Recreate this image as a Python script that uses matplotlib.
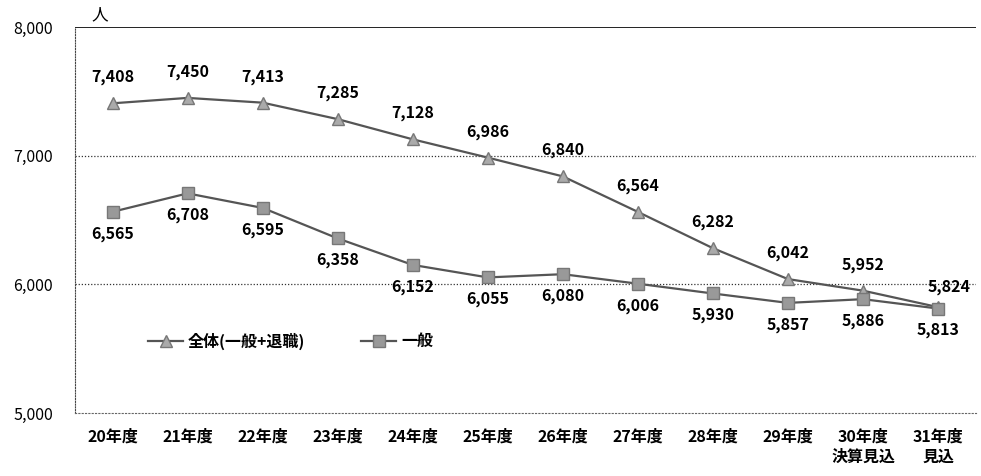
import matplotlib
matplotlib.use("Agg")
import matplotlib.pyplot as plt

plt.rcParams['font.family'] = ['Noto Sans CJK JP', 'DejaVu Sans']

categories = ["20年度", "21年度", "22年度", "23年度", "24年度", "25年度",
              "26年度", "27年度", "28年度", "29年度", "30年度\n決算見込", "31年度\n見込"]
total = [7408, 7450, 7413, 7285, 7128, 6986, 6840, 6564, 6282, 6042, 5952, 5824]
general = [6565, 6708, 6595, 6358, 6152, 6055, 6080, 6006, 5930, 5857, 5886, 5813]
yticks = [5000, 6000, 7000, 8000]

fig = plt.figure(figsize=(9.81, 4.76), dpi=100)
ax = fig.add_axes([0.0765, 0.132, 0.918, 0.811])

x = list(range(len(categories)))
ax.plot(x, total, color="#555555", lw=1.6, marker="^", ms=9,
        mfc="#aaaaaa", mec="#777777", label="全体(一般+退職)", zorder=3)
ax.plot(x, general, color="#555555", lw=1.6, marker="s", ms=8,
        mfc="#999999", mec="#777777", label="一般", zorder=3)

for i, v in enumerate(total):
    dy = 13
    dx = 0
    if i == len(total) - 1:
        dx = 8
        dy = 9
    ax.annotate(f"{v:,}", (i, v), xytext=(dx, dy), textcoords="offset points",
                ha="center", va="bottom", fontsize=11.5, fontweight="bold")
for i, v in enumerate(general):
    ax.annotate(f"{v:,}", (i, v), xytext=(0, -10), textcoords="offset points",
                ha="center", va="top", fontsize=11.5, fontweight="bold")

ax.set_xlim(-0.5, len(categories) - 0.5)
ax.set_ylim(5000, 8000)
ax.set_yticks(yticks)
ax.set_yticklabels([f"{t:,}" for t in yticks], fontsize=11.5)
ax.set_xticks(x)
ax.set_xticklabels(categories, fontsize=11.5, fontweight="bold", linespacing=1.35)
ax.tick_params(length=0, pad=11)
ax.tick_params(axis="y", pad=16)

for t in [6000, 7000]:
    ax.axhline(t, color="#333333", lw=0.9, ls=(0, (1, 1.5)), zorder=1)
ax.axhline(8000, color="#222222", lw=1.4, zorder=1)

for s in ["right", "top"]:
    ax.spines[s].set_visible(False)
ax.spines["left"].set_linestyle((0, (1, 1.5)))
ax.spines["bottom"].set_linestyle((0, (1, 2)))
ax.spines["left"].set_color("#444444")
ax.spines["bottom"].set_color("#666666")

fig.text(0.102, 0.968, "人", fontsize=12, ha="center", va="center")

ax.legend(loc="center left", bbox_to_anchor=(0.065, 0.187), ncol=2, frameon=False,
          handlelength=2.2, columnspacing=3.5, handletextpad=0.3,
          prop={"weight": "bold", "size": 11.5})

fig.savefig("out.png", dpi=100)
